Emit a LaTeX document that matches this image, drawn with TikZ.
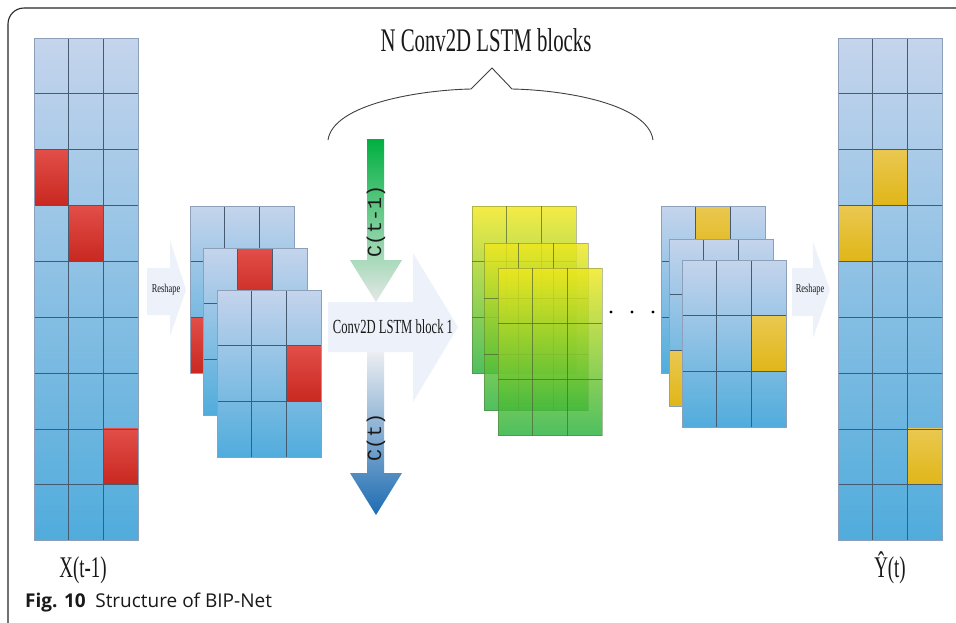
\documentclass[tikz,border=0pt]{standalone}
\usepackage{fontspec}
\setmainfont{Liberation Serif}
\newfontfamily\condfont[FakeStretch=0.7]{Liberation Serif}
\newfontfamily\tallfont[FakeStretch=0.63]{Liberation Serif}
\newfontfamily\cellmono{Liberation Mono}
\newfontfamily\capfont{Open Sans}

\definecolor{celltop}{RGB}{197,212,236}
\definecolor{cellbot}{RGB}{80,172,220}
\definecolor{redtop}{RGB}{226,78,72}
\definecolor{redbot}{RGB}{200,40,32}
\definecolor{yeltop}{RGB}{234,200,80}
\definecolor{yelbot}{RGB}{224,182,24}
\definecolor{gline}{RGB}{70,90,112}
\definecolor{gedge}{RGB}{140,160,185}
\definecolor{flowfill}{RGB}{237,242,250}
\definecolor{lstmtop}{RGB}{242,232,30}
\definecolor{lstmbot}{RGB}{40,178,62}
\definecolor{lstmline}{RGB}{80,100,55}
\definecolor{cprev}{RGB}{0,176,64}
\definecolor{cpale}{RGB}{228,232,230}
\definecolor{cnexttop}{RGB}{236,238,242}
\definecolor{cnextbot}{RGB}{30,108,178}
\definecolor{txt}{RGB}{25,25,25}

\tikzset{
  gridline/.style={draw=gline, line width=0.8pt},
  edgeline/.style={draw=gedge, line width=0.8pt},
  redcell/.style={top color=redtop, bottom color=redbot},
  yelcell/.style={top color=yeltop, bottom color=yelbot},
  flowarrow/.style={fill=flowfill},
  condlabel/.style={font=\condfont, text=txt, inner sep=0pt},
  monolabel/.style={font=\cellmono\fontsize{20}{24}\selectfont, text=txt, inner sep=0pt},
}

% 3-column tile block: x, y, rows, inner row lines, coloured cells (col/row/style)
\newcommand\tileblock[5]{%
  \begin{scope}[shift={(#1,#2)}, x=34.7pt, y=-55.85pt]
    \shade[top color=celltop, bottom color=cellbot] (0,0) rectangle (3,#3);
    \foreach \cx/\ry/\st in {#5} { \shade[\st] (\cx,\ry) rectangle ++(1,1); }
    \foreach \cx in {1,2} { \draw[gridline] (\cx,0) -- (\cx,#3); }
    \foreach \ry in {#4} { \draw[gridline] (0,\ry) -- (3,\ry); }
    \draw[edgeline] (0,0) rectangle (3,#3);
  \end{scope}}

% translucent yellow-green 3x3 feature map
\newcommand\lstmblock[2]{%
  \begin{scope}[shift={(#1,#2)}, x=34.7pt, y=-55.85pt]
    \shade[top color=lstmtop, bottom color=lstmbot, fill opacity=0.82] (0,0) rectangle (3,3);
    \foreach \cx in {1,2} { \draw[draw=lstmline, draw opacity=0.7, line width=0.8pt] (\cx,0) -- (\cx,3); }
    \foreach \ry in {1,2} { \draw[draw=lstmline, draw opacity=0.7, line width=0.8pt] (0,\ry) -- (3,\ry); }
    \draw[draw=lstmline, draw opacity=0.4, line width=0.8pt] (0,0) rectangle (3,3);
  \end{scope}}

\begin{document}
\begin{tikzpicture}[x=1pt, y=-1pt]
\useasboundingbox (0,0) rectangle (956,622);
\clip (0,0) rectangle (956,622);
\fill[white] (0,0) rectangle (956,622);

% outer frame
\draw[line width=1.1pt, draw=black!85, rounded corners=16pt] (8,8) rectangle (990,655);

% input sequence X(t-1)
\tileblock{34}{38}{9}{1,...,8}{0/2/redcell,1/3/redcell,2/7/redcell}
\node[condlabel, font=\tallfont\fontsize{30}{34}\selectfont] (xin) at (83,570) {X(t-1)};

% reshape arrow (input side)
\fill[flowarrow] (147,268) -- (170,268) -- (170,240) -- (186,290) -- (170,336) -- (170,315) -- (147,315) -- cycle;
\node[condlabel, font=\condfont\fontsize{12}{14}\selectfont] (reshapeA) at (166,290) {Reshape};

% reshaped input maps
\tileblock{190}{206}{3}{1,2}{0/2/redcell}
\tileblock{203}{248}{3}{1,2}{1/0/redcell}
\tileblock{217}{290}{3}{1,2}{2/1/redcell}

% first Conv2D LSTM block
\fill[flowarrow] (328,302) -- (413,302) -- (413,253) -- (458,327) -- (413,402) -- (413,352) -- (328,352) -- cycle;
\node[condlabel, font=\tallfont\fontsize{20}{24}\selectfont] (block1) at (393,327) {Conv2D LSTM block 1};

% cell state in / out
\shade[top color=cprev, bottom color=cpale]
  (367,139) -- (384,139) -- (384,260) -- (402,260) -- (376,302) -- (350,260) -- (367,260) -- cycle;
\node[monolabel, rotate=90] (cprevlbl) at (376,221) {C(t-1)};
\shade[top color=cnexttop, bottom color=cnextbot]
  (367,352) -- (384,352) -- (384,473) -- (402,473) -- (376,515) -- (350,473) -- (367,473) -- cycle;
\node[monolabel, rotate=90] (cnextlbl) at (376,437) {C(t)};

% hidden feature maps
\lstmblock{472}{206}
\lstmblock{484}{243}
\lstmblock{498}{268}

% further blocks
\foreach \dx in {611,632,653} { \fill[black] (\dx,312) circle (1.6pt); }

% output maps
\tileblock{661}{206}{3}{1,2}{1/0/yelcell}
\tileblock{669}{239}{3}{1,2}{0/2/yelcell}
\tileblock{682}{260}{3}{1,2}{2/1/yelcell}

% reshape arrow (output side)
\fill[flowarrow] (792,268) -- (813,268) -- (813,242) -- (830,290) -- (813,338) -- (813,316) -- (792,316) -- cycle;
\node[condlabel, font=\condfont\fontsize{12}{14}\selectfont] (reshapeB) at (810,290) {Reshape};

% predicted sequence
\tileblock{838}{38}{9}{1,...,8}{1/2/yelcell,0/3/yelcell,2/7/yelcell}
\node[condlabel, font=\tallfont\fontsize{30}{34}\selectfont] (yout) at (890,568) {\^{Y}(t)};

% brace over the stacked blocks
\draw[line width=0.9pt, draw=black!75]
  (328,140) .. controls (333,104) and (420,90) .. (471,89) -- (492,68) -- (512,89)
  .. controls (565,90) and (648,104) .. (653,140);
\node[condlabel, font=\tallfont\fontsize{33}{38}\selectfont] (title) at (486,40) {N Conv2D LSTM blocks};

% caption
\node[anchor=west, inner sep=0pt, text=txt, font=\capfont\fontsize{19}{22}\selectfont] (caption) at (25,603)
  {\textbf{Fig. 10}\enspace Structure of BIP-Net};
\end{tikzpicture}
\end{document}
